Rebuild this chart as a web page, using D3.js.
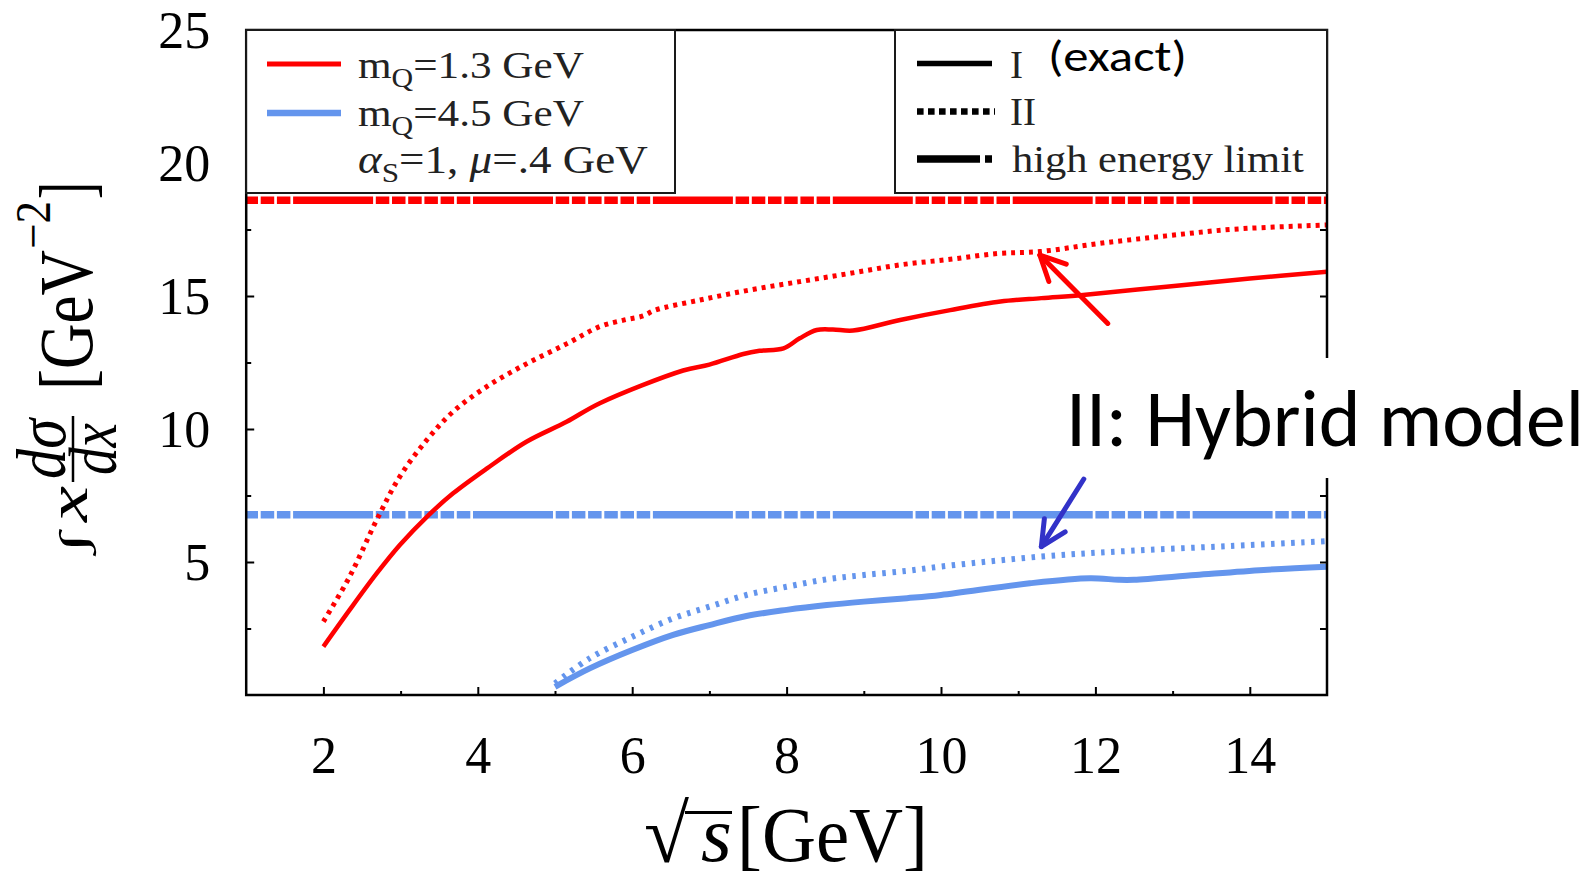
<!DOCTYPE html>
<html>
<head>
<meta charset="utf-8">
<script src="https://cdn.jsdelivr.net/npm/d3@7"></script>
<style>
  html, body { margin: 0; padding: 0; background: #fff; }
  svg { display: block; }
</style>
</head>
<body>
<svg id="chart" width="1591" height="881"></svg>
<script>
// ---- data: x dσ/dx versus √s ----
// exact calculation (I), m_Q = 1.3 GeV
const sqrtS_c_I = [2.0, 2.34, 2.69, 2.99, 3.34, 3.68, 4.12, 4.63, 5.15, 5.58, 6.66, 7.0, 7.44, 7.65, 7.96, 8.17, 8.39, 8.6, 8.86, 9.47, 10.12, 10.77, 11.3, 11.84, 12.92, 14.0, 15.0];
const xsec_c_I  = [1.82, 3.20, 4.57, 5.64, 6.70, 7.58, 8.52, 9.52, 10.27, 10.97, 12.2, 12.42, 12.82, 12.94, 13.03, 13.41, 13.72, 13.74, 13.70, 14.10, 14.47, 14.79, 14.92, 15.04, 15.35, 15.66, 15.91];
// hybrid model (II), m_Q = 1.3 GeV
const sqrtS_c_II = [2.0, 2.34, 2.69, 2.99, 3.34, 3.68, 4.12, 4.63, 5.15, 5.58, 5.9, 6.14, 6.3, 6.88, 7.53, 8.17, 8.82, 9.47, 10.12, 10.74, 11.28, 12.06, 12.92, 13.79, 15.0];
const xsec_c_II  = [2.76, 4.45, 6.58, 8.21, 9.59, 10.65, 11.6, 12.45, 13.2, 13.85, 14.1, 14.25, 14.47, 14.85, 15.23, 15.54, 15.85, 16.17, 16.38, 16.6, 16.67, 16.98, 17.26, 17.51, 17.67];
// exact calculation (I), m_Q = 4.5 GeV
const sqrtS_b_I = [5.0, 5.45, 6.0, 6.53, 7.0, 7.48, 8.0, 8.52, 9.0, 9.56, 10.0, 11.15, 11.93, 12.3, 12.5, 13.3, 14.18, 15.0];
const xsec_b_I  = [0.31, 1.00, 1.69, 2.26, 2.63, 2.97, 3.20, 3.38, 3.51, 3.64, 3.76, 4.20, 4.39, 4.33, 4.33, 4.51, 4.70, 4.82];
// hybrid model (II), m_Q = 4.5 GeV
const sqrtS_b_II = [5.0, 5.45, 6.0, 6.53, 7.0, 7.48, 8.0, 8.52, 9.0, 9.56, 9.97, 11.28, 12.45, 13.74, 15.0];
const xsec_b_II  = [0.44, 1.38, 2.19, 2.88, 3.32, 3.76, 4.07, 4.35, 4.51, 4.67, 4.82, 5.20, 5.42, 5.60, 5.78];
// high energy limits
const limitRange = [1, 15];
const limit_c = 18.6;
const limit_b = 6.78;

// axis ticks
const xMajorTicks = [2, 4, 6, 8, 10, 12, 14];
const xMinorTicks = [3, 5, 7, 9, 11, 13];
const yMajorTicks = [5, 10, 15, 20, 25];
const yMinorTicks = [2.5, 7.5, 12.5, 17.5, 22.5];

// legend labels
const massLabels = ["1.3 GeV", "4.5 GeV"];
const styleLabels = ["I", "II", "high energy limit"];

// annotation arrows (data coordinates: tail -> tip)
const arrowC = { from: [12.16, 13.97], to: [11.28, 16.54] };
const arrowB = { from: [11.85, 8.12], to: [11.30, 5.58] };

// ---- layout ----
const RED = "#ff0000", BLUE = "#6495ed";
const SERIF = "'Liberation Serif', 'Times New Roman', serif";
const SANS = "Carlito, Lato, 'Open Sans', sans-serif";
const P = { left: 246.2, right: 1327, top: 30, bottom: 695 };

const svg = d3.select("#chart");
const x = d3.scaleLinear().domain([1, 15]).range([P.left, P.right]);
const y = d3.scaleLinear().domain([0, 25]).range([P.bottom, P.top]);

svg.append("defs").append("clipPath").attr("id", "plotclip")
  .append("rect").attr("x", P.left).attr("y", P.top)
  .attr("width", P.right - P.left).attr("height", P.bottom - P.top);

const plot = svg.append("g").attr("clip-path", "url(#plotclip)");
const line = d3.line().x(d => x(d[0])).y(d => y(d[1])).curve(d3.curveCatmullRom.alpha(0.5));
const zip = (a, b) => a.map((v, i) => [v, b[i]]);

// high-energy limit: long dash followed by six short dashes
const dashDot = [80, 2.7, 13.5, 2.7, 13.5, 2.7, 13.5, 2.7, 13.5, 2.7, 13.5, 2.7, 13.5, 2.7];
[[limit_c, RED], [limit_b, BLUE]].forEach(([v, c]) => {
  plot.append("path")
    .attr("d", d3.line().x(d => x(d)).y(() => y(v))(limitRange))
    .attr("fill", "none").attr("stroke", c).attr("stroke-width", 7.5)
    .attr("stroke-dasharray", dashDot.join(","))
    .attr("stroke-dashoffset", 133);
});

// curves
const curves = [
  { xs: sqrtS_c_II, ys: xsec_c_II, c: RED, w: 5, dash: "4,5" },
  { xs: sqrtS_c_I, ys: xsec_c_I, c: RED, w: 4.5, dash: null },
  { xs: sqrtS_b_II, ys: xsec_b_II, c: BLUE, w: 6, dash: "3.5,6.5" },
  { xs: sqrtS_b_I, ys: xsec_b_I, c: BLUE, w: 6, dash: null },
];
curves.forEach(s => {
  plot.append("path").attr("d", line(zip(s.xs, s.ys)))
    .attr("fill", "none").attr("stroke", s.c).attr("stroke-width", s.w)
    .attr("stroke-dasharray", s.dash);
});

// ---- axes ----
function styleAxis(g) {
  g.select(".domain").remove();
  g.selectAll(".tick line").attr("stroke", "#000").attr("stroke-width", 2);
  g.selectAll("text").attr("font-family", SERIF).attr("font-size", 52).attr("fill", "#000");
}
svg.append("g").attr("transform", `translate(0,${P.bottom})`)
  .call(d3.axisBottom(x).tickValues(xMajorTicks).tickSize(-8).tickPadding(0).tickFormat(d3.format("d")))
  .call(styleAxis)
  .call(g => g.selectAll("text").attr("y", 78).attr("dy", null));
svg.append("g").attr("transform", `translate(0,${P.bottom})`)
  .call(d3.axisBottom(x).tickValues(xMinorTicks).tickSize(-4).tickFormat(""))
  .call(styleAxis);
svg.append("g").attr("transform", `translate(${P.left},0)`)
  .call(d3.axisLeft(y).tickValues(yMajorTicks).tickSize(-8).tickPadding(36).tickFormat(d3.format("d")))
  .call(styleAxis)
  .call(g => g.selectAll("text").attr("dy", "0.33em"));
svg.append("g").attr("transform", `translate(${P.left},0)`)
  .call(d3.axisLeft(y).tickValues(yMinorTicks).tickSize(-5).tickFormat(""))
  .call(styleAxis);
svg.append("g").attr("transform", `translate(${P.right},0)`)
  .call(d3.axisRight(y).tickValues(yMajorTicks.concat(yMinorTicks)).tickSize(-7).tickFormat(""))
  .call(styleAxis);

// frame
svg.append("rect").attr("x", P.left).attr("y", P.top)
  .attr("width", P.right - P.left).attr("height", P.bottom - P.top)
  .attr("fill", "none").attr("stroke", "#000").attr("stroke-width", 2.5);

// ---- axis titles ----
function fitWidth(t, x0, w) {
  const bb = t.node().getBBox();
  const s = w / bb.width;
  t.attr("transform", `translate(${x0},0) scale(${s},1) translate(${-bb.x},0)`);
}

// x title: √s [GeV]
const xt = svg.append("g").attr("font-family", SERIF).attr("fill", "#000");
xt.append("text").attr("x", 644).attr("y", 862).attr("font-size", 82).text("√");
xt.append("text").attr("x", 701).attr("y", 861).attr("font-size", 79)
  .attr("font-style", "italic").text("s");
xt.append("line").attr("x1", 685).attr("x2", 732).attr("y1", 812.5).attr("y2", 812.5)
  .attr("stroke", "#000").attr("stroke-width", 3);
xt.append("text").attr("x", 737).attr("y", 861).attr("font-size", 79)
  .attr("textLength", 191).attr("lengthAdjust", "spacingAndGlyphs").text("[GeV]");

// y title (rotated): ∫ x dσ/dx [GeV^-2]
const yt = svg.append("g").attr("font-family", SERIF).attr("fill", "#000");
function vtext(bx, sy, size, len, str, italic, anchor) {
  return yt.append("text")
    .attr("transform", `translate(${bx},${sy}) rotate(-90)`)
    .attr("font-size", size).attr("font-style", italic ? "italic" : "normal")
    .attr("text-anchor", anchor || "start")
    .attr("textLength", len).attr("lengthAdjust", "spacingAndGlyphs").text(str);
}
vtext(86, 553, 38, 20, "∫", true);
vtext(87, 522, 56, 36, "x", true);
vtext(65, 449, 70, 60, "dσ", true, "middle");
vtext(116, 449, 68, 52, "dx", true, "middle");
yt.append("line").attr("x1", 73).attr("x2", 73).attr("y1", 416).attr("y2", 482)
  .attr("stroke", "#000").attr("stroke-width", 2.5);
vtext(92, 390, 76, 140, "[GeV", false);
vtext(50, 249, 50, 48, "−2", false);
vtext(92, 199, 76, 17, "]", false);

// ---- legends ----
const leg = svg.append("g");
leg.append("rect").attr("x", P.left).attr("y", P.top).attr("width", 675 - P.left).attr("height", 193 - P.top)
  .attr("fill", "#fff").attr("stroke", "#1a1a1a").attr("stroke-width", 2);
leg.append("rect").attr("x", 895).attr("y", P.top).attr("width", P.right - 895).attr("height", 193 - P.top)
  .attr("fill", "#fff").attr("stroke", "#1a1a1a").attr("stroke-width", 2);

// mass legend
[[RED, 64, 5], [BLUE, 113, 6.5]].forEach(([c, yy, w]) => {
  leg.append("line").attr("x1", 267).attr("x2", 341).attr("y1", yy).attr("y2", yy)
    .attr("stroke", c).attr("stroke-width", w);
});
function mathText(xx, yy, parts, width) {
  const t = leg.append("text").attr("x", xx).attr("y", yy)
    .attr("font-family", SERIF).attr("font-size", 39).attr("fill", "#222");
  let shifted = false;
  parts.forEach(p => {
    const ts = t.append("tspan").text(p.t);
    if (p.i) ts.attr("font-style", "italic");
    if (p.sub) { ts.attr("font-size", 27).attr("dy", 9); shifted = true; }
    else if (shifted) { ts.attr("dy", -9); shifted = false; }
  });
  fitWidth(t, xx, width);
  return t;
}
mathText(358, 78, [{ t: "m" }, { t: "Q", sub: true }, { t: "=" + massLabels[0] }], 226);
mathText(358, 126, [{ t: "m" }, { t: "Q", sub: true }, { t: "=" + massLabels[1] }], 226);
mathText(358, 173.5, [{ t: "α", i: true }, { t: "S", sub: true }, { t: "=1, " }, { t: "μ", i: true }, { t: "=.4 GeV" }], 290);

// line-style legend
leg.append("line").attr("x1", 917).attr("x2", 992).attr("y1", 63.5).attr("y2", 63.5)
  .attr("stroke", "#000").attr("stroke-width", 5.5);
leg.append("line").attr("x1", 917).attr("x2", 995).attr("y1", 111.5).attr("y2", 111.5)
  .attr("stroke", "#000").attr("stroke-width", 6.5).attr("stroke-dasharray", "6.6,4.4");
leg.append("line").attr("x1", 917).attr("x2", 992).attr("y1", 159).attr("y2", 159)
  .attr("stroke", "#000").attr("stroke-width", 7.5).attr("stroke-dasharray", "63,5,7,10");
[[78, styleLabels[0]], [125, styleLabels[1]]].forEach(([yy, s]) => {
  leg.append("text").attr("x", 1010).attr("y", yy).attr("font-family", SERIF)
    .attr("font-size", 39).attr("fill", "#222").text(s);
});
fitWidth(leg.append("text").attr("x", 1012).attr("y", 172).attr("font-family", SERIF)
  .attr("font-size", 39).attr("fill", "#222").text(styleLabels[2]), 1012, 292);
fitWidth(leg.append("text").attr("x", 1048).attr("y", 71).attr("font-family", SANS)
  .attr("font-size", 44).attr("fill", "#000").text("(exact)"), 1048, 139);

// ---- annotations ----
function arrow(a, color) {
  const x0 = x(a.from[0]), y0 = y(a.from[1]), x1 = x(a.to[0]), y1 = y(a.to[1]);
  const ang = Math.atan2(y0 - y1, x0 - x1);
  const L = 28, spread = 26 * Math.PI / 180;
  const w1 = [x1 + L * Math.cos(ang - spread), y1 + L * Math.sin(ang - spread)];
  const w2 = [x1 + L * Math.cos(ang + spread), y1 + L * Math.sin(ang + spread)];
  const g = svg.append("g").attr("fill", "none").attr("stroke", color)
    .attr("stroke-width", 5).attr("stroke-linecap", "round").attr("stroke-linejoin", "round");
  g.append("line").attr("x1", x0).attr("y1", y0).attr("x2", x1).attr("y2", y1);
  g.append("polyline").attr("points", [w1, [x1, y1], w2].map(p => p.join(",")).join(" "));
}
arrow(arrowC, RED);

svg.append("rect").attr("x", 1058).attr("y", 358).attr("width", 1591 - 1058).attr("height", 120)
  .attr("fill", "#fff");
fitWidth(svg.append("text").attr("x", 1066).attr("y", 446).attr("font-family", SANS)
  .attr("font-size", 80).attr("fill", "#000").text("II: Hybrid model"), 1066, 518);

arrow(arrowB, "#3232c8");
</script>
</body>
</html>
